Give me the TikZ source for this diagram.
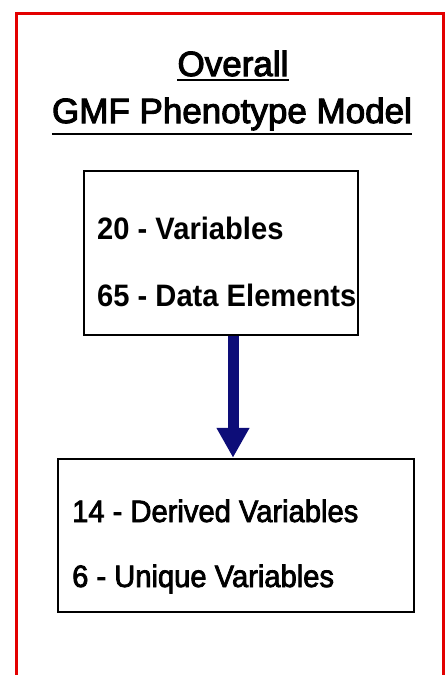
\documentclass[tikz,border=0pt]{standalone}
\usepackage{fontspec}
\setmainfont{Liberation Sans}[FakeStretch=0.94]
\newfontfamily\titlefont{Liberation Sans}[FakeBold=3]
\newfontfamily\countfont{Liberation Sans}[FakeStretch=0.94, FakeBold=2.5]
\usetikzlibrary{arrows.meta}
\newlength{\du}
\setlength{\du}{1pt}
\definecolor{framecolor}{rgb}{0.890000, 0.000000, 0.000000}
\definecolor{arrowcolor}{rgb}{0.050000, 0.050000, 0.470000}
\tikzset{
  databox/.style={draw=black, line width=2.5\du, fill=white, inner sep=0pt},
  boxline/.style={anchor=base west, inner sep=0pt},
  titleline/.style={anchor=base, inner sep=0pt, font=\titlefont\fontsize{35}{42}\selectfont},
  flowarrow/.style={draw=arrowcolor, line width=11\du, -{Triangle[width=31pt,length=30pt]}}
}

\begin{document}
\begin{tikzpicture}[x=\du,y=-\du]
\useasboundingbox (0,0) rectangle (446,675);
\clip (0,0) rectangle (446,675);
\fill[white] (0,0) rectangle (446,675);
% outer frame
\draw[framecolor, line width=3\du] (16,13) rectangle (443,700);
% title
\node[titleline] (title1) at (233,76) {Overall};
\node[titleline] (title2) at (232,123) {GMF Phenotype Model};
\draw[line width=2.5\du] ([yshift=-4\du]title1.base west) -- ([yshift=-4\du]title1.base east);
\draw[line width=2.5\du] ([yshift=-11\du]title2.base west) -- ([yshift=-11\du]title2.base east);
% boxes
\node[databox, minimum width=274\du, minimum height=164\du] (box1) at (221,253) {};
\node[databox, minimum width=356\du, minimum height=153\du] (box2) at (236,535.5) {};
% box texts
\node[boxline, font=\bfseries\fontsize{31}{37}\selectfont] (vars) at (97,239) {20 - Variables};
\node[boxline, font=\bfseries\fontsize{31}{37}\selectfont] (elems) at (97,306) {65 - Data Elements};
\node[boxline, font=\countfont\fontsize{31}{37}\selectfont] (derived) at (72,522) {14 - Derived Variables};
\node[boxline, font=\countfont\fontsize{31}{37}\selectfont] (unique) at (72,587) {6 - Unique Variables};
% connector
\draw[flowarrow] (title1.south |- box1.south) -- (title1.south |- box2.north);
\end{tikzpicture}
\end{document}
